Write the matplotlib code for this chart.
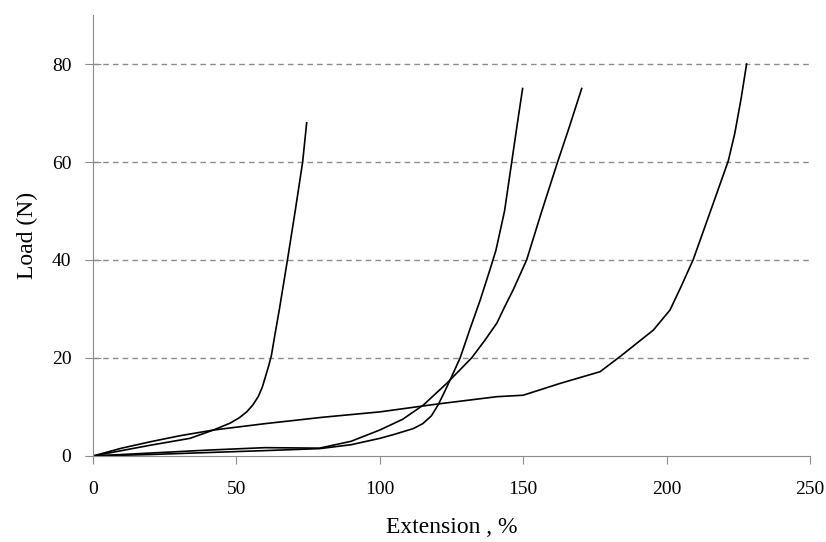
import numpy as np
import matplotlib.pyplot as plt

plt.rcParams['font.family'] = ['Liberation Serif', 'DejaVu Serif']

# sample A - fails early
ext_a = [0, 10, 20, 33.8, 42, 47.8, 51, 53.6, 55.7, 57.6, 59, 60.3, 61.3, 62.2, 63.5,
         65, 67.8, 70.5, 73.1, 74.5]
load_a = [0, 1.1, 2.2, 3.6, 5.3, 6.7, 7.8, 9.0, 10.4, 12.1, 14, 16.5, 18.5, 20.5, 25,
          30, 40, 50, 60, 68]

# sample B - long linear part
ext_b = [0, 10, 20, 30, 42, 60, 80, 100, 120, 140.8, 150, 162.8, 176.8, 183.8,
         195.4, 201.2, 205, 209.3, 213.5, 217.5, 221.5, 223.8, 226, 227.9]
load_b = [0, 1.6, 2.9, 4.1, 5.3, 6.6, 7.9, 9.0, 10.6, 12.1, 12.4, 14.8, 17.2, 20.3,
          25.7, 29.8, 34.5, 40.1, 47, 53.6, 60.2, 65.9, 73, 80]

# sample C
ext_c = [0, 20, 40, 60, 79, 90, 100, 105, 111.7, 115, 118, 120.4, 122.5, 124.5, 128,
         131.5, 135, 138.4, 140.5, 143.5, 146, 148, 149.8]
load_c = [0, 0.3, 0.7, 1.1, 1.5, 2.3, 3.6, 4.4, 5.6, 6.6, 8.2, 10.5, 13, 15.5, 20,
          26, 31.8, 38, 42, 50, 60, 68, 75]

# sample D
ext_d = [0, 20, 40, 60, 79, 90, 100, 108, 115.2, 123.3, 132, 136.5, 140.8, 143.5,
         146.5, 151.2, 156.5, 162, 166, 170.4]
load_d = [0, 0.6, 1.2, 1.7, 1.6, 3.0, 5.3, 7.5, 10.4, 14.8, 20, 23.5, 27.1, 30.4,
          33.9, 40, 50, 60, 67, 75]

fig = plt.figure(figsize=(8.26, 5.42), dpi=100)
ax = fig.add_axes([0.1126, 0.1587, 0.868, 0.8136])

for x, y in [(ext_a, load_a), (ext_b, load_b), (ext_c, load_c), (ext_d, load_d)]:
    ax.plot(x, y, color='black', lw=1.2, solid_joinstyle='round')

ax.set_xlim(0, 250)
ax.set_ylim(0, 90)
ax.set_xticks([0, 50, 100, 150, 200, 250])
ax.set_yticks([0, 20, 40, 60, 80])
for v in [20, 40, 60, 80]:
    ax.axhline(v, color='#8c8c8c', ls=(0, (4, 3)), lw=1, zorder=0)

for s in ['top', 'right']:
    ax.spines[s].set_visible(False)
for s in ['left', 'bottom']:
    ax.spines[s].set_color('#8c8c8c')
ax.tick_params(axis='y', direction='inout', length=11, color='#8c8c8c', labelsize=14, pad=10)
ax.tick_params(axis='x', direction='out', length=6, color='#8c8c8c', labelsize=14, pad=12)

ax.set_xlabel('Extension , %', fontsize=17, labelpad=14)
ax.set_ylabel('Load (N)', fontsize=17, labelpad=10)

fig.savefig('out.png', dpi=100)
